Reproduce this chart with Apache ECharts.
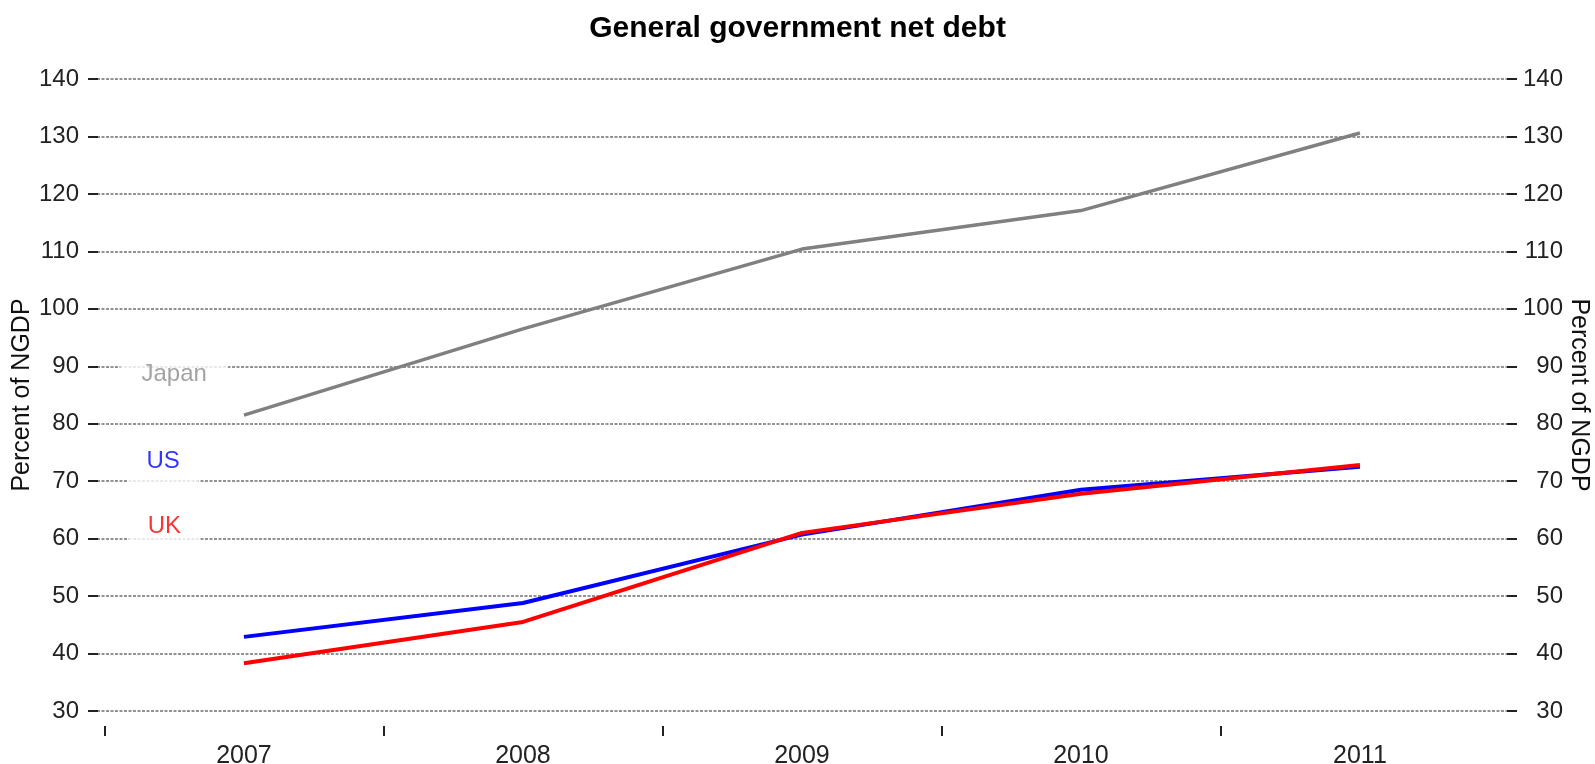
<!DOCTYPE html>
<html>
<head>
<meta charset="utf-8">
<title>General government net debt</title>
<script src="https://cdn.jsdelivr.net/npm/echarts@6/dist/echarts.min.js"></script>
<style>
  html, body { margin: 0; padding: 0; background: #fff; }
  #chart { width: 1595px; height: 764px; }
</style>
</head>
<body>
<div id="chart"></div>
<script>
// years on the x axis
const years = [2007, 2008, 2009, 2010, 2011]
// tick marks sit between the years
const tickYears = [2006.5, 2007.5, 2008.5, 2009.5, 2010.5]

// percent of NGDP
const japan = [81.5, 96.5, 110.4, 117.1, 130.6]
const us = [42.9, 48.8, 60.7, 68.5, 72.5]
const uk = [38.3, 45.5, 61.0, 67.8, 72.8]

// inline series labels: [year, value, text]
const seriesLabels = [
  [2006.75, 88.6, 'Japan'],
  [2006.71, 73.4, 'US'],
  [2006.715, 62.2, 'UK'],
]

const FONT = '"Liberation Sans", Arial, sans-serif'
const colors = { Japan: '#808080', US: '#0000ff', UK: '#ff0000' }
const labelColors = { Japan: '#8c8c8c', US: '#0000ff', UK: '#ff0000' }

const toPairs = vals => years.map((y, i) => [y, vals[i]])

const chart = echarts.init(document.getElementById('chart'))

const yAxisBase = {
  type: 'value',
  min: 30,
  max: 140,
  interval: 10,
  name: 'Percent of NGDP',
  nameLocation: 'middle',
  nameMoveOverlap: false,
  nameTextStyle: { color: '#111', fontSize: 25, fontFamily: FONT },
  axisLine: { show: false },
  axisTick: { show: true, inside: true, length: 10, lineStyle: { color: '#222', width: 2 } },
}

const option = {
  animation: false,
  backgroundColor: '#fff',
  title: {
    text: 'General government net debt',
    left: 'center',
    top: 9,
    textStyle: { color: '#000', fontSize: 30, fontWeight: 'bold', fontFamily: FONT },
  },
  grid: { left: 88, right: 78, top: 79, bottom: 53, outerBoundsMode: 'none' },
  xAxis: {
    type: 'value',
    min: 2006.441,
    max: 2011.563,
    offset: 15,
    axisLine: { show: false },
    splitLine: { show: false },
    axisTick: {
      show: true,
      customValues: tickYears,
      length: 10,
      lineStyle: { color: '#222', width: 2 },
    },
    axisLabel: {
      customValues: years,
      formatter: v => String(Math.round(v)),
      color: '#222',
      fontSize: 25,
      fontFamily: FONT,
      margin: 18,
    },
  },
  yAxis: [
    Object.assign({}, yAxisBase, {
      position: 'left',
      nameGap: 53,
      nameRotate: 90,
      axisLabel: { color: '#222', fontSize: 24, fontFamily: FONT, margin: 9 },
      splitLine: { show: true, lineStyle: { color: '#707070', width: 1.5, type: [3, 1.5] } },
    }),
    Object.assign({}, yAxisBase, {
      position: 'right',
      nameGap: 49,
      nameRotate: -90,
      axisLabel: { color: '#222', fontSize: 24, fontFamily: FONT, margin: 46, align: 'right' },
      splitLine: { show: false },
    }),
  ],
  series: [
    {
      name: 'Japan',
      type: 'line',
      data: toPairs(japan),
      symbol: 'none',
      lineStyle: { color: colors.Japan, width: 3.5 },
      z: 3,
    },
    {
      name: 'US',
      type: 'line',
      data: toPairs(us),
      symbol: 'none',
      lineStyle: { color: colors.US, width: 4 },
      z: 3,
    },
    {
      name: 'UK',
      type: 'line',
      data: toPairs(uk),
      symbol: 'none',
      lineStyle: { color: colors.UK, width: 4 },
      z: 4,
    },
    {
      name: 'labels',
      type: 'scatter',
      symbolSize: 0,
      silent: true,
      z: 5,
      data: seriesLabels.map(d => ({
        value: [d[0], d[1]],
        label: {
          show: true,
          position: 'inside',
          formatter: d[2],
          color: labelColors[d[2]],
          fontSize: 24,
          fontFamily: FONT,
          lineHeight: 24,
          backgroundColor: '#fff',
          padding: [13, d[2] === 'Japan' ? 21 : 19],
        },
      })),
    },
  ],
}

chart.setOption(option)
window.addEventListener('resize', () => chart.resize())
</script>
</body>
</html>
